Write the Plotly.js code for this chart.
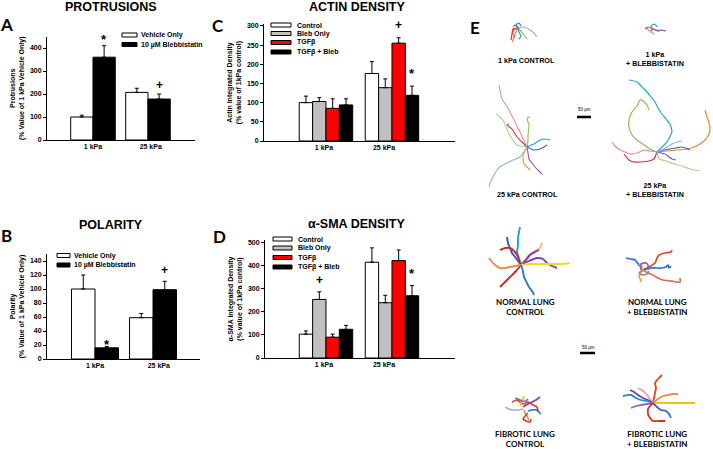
<!DOCTYPE html>
<html>
<head>
<meta charset="utf-8">
<script src="https://cdn.plot.ly/plotly-3.0.1.min.js"></script>
<style>html,body{margin:0;padding:0;background:#fff;}#chart{width:713px;height:449px;}</style>
</head>
<body>
<div id="chart"></div>
<script>
// ---------------- DATA ----------------
const groups = ['1 kPa', '25 kPa'];

// Panel A - Protrusions (% value of 1 kPa vehicle only)
const protVehicle = [100, 207];
const protVehicleErr = [8, 18];
const protBleb = [360, 178];
const protBlebErr = [50, 22];

// Panel B - Polarity
const polVehicle = [100, 59];
const polVehicleErr = [20, 6];
const polBleb = [16, 99];
const polBlebErr = [2, 12];

// Panel C - Actin density
const actinControl = [100, 176];
const actinControlErr = [17, 31];
const actinBleb = [103, 139];
const actinBlebErr = [10, 23];
const actinTgf = [85, 255];
const actinTgfErr = [25, 14];
const actinTgfBleb = [94, 119];
const actinTgfBlebErr = [16, 24];

// Panel D - alpha-SMA density
const smaControl = [103, 414];
const smaControlErr = [14, 62];
const smaBleb = [253, 239];
const smaBlebErr = [33, 32];
const smaTgf = [90, 421];
const smaTgfErr = [13, 46];
const smaTgfBleb = [124, 269];
const smaTgfBlebErr = [17, 44];

// significance markers: [x position (group + bar offset), y value, text]
const sigA = [[0.205, 448, '*'], [1.205, 240, '+']];
const sigB = [[0.205, 25, '*'], [1.205, 127, '+']];
const sigC = [[1.1, 302, '+'], [1.3, 184, '*']];
const sigD = [[-0.1, 338, '+'], [1.3, 380, '*']];

const legendAB = ['Vehicle Only', '10 µM Blebbistatin'];
const legendCD = ['Control', 'Bleb Only', 'TGFβ', 'TGFβ + Bleb'];

// Panel E - cell migration tracks (offsets from track origin, µm-scaled px)
const tracks1kCtrl = [
  {c:'#e07a70', x:[0,-2,-4,-5,-6], y:[0,4,8,12,14]},
  {c:'#e8743b', x:[0,-4,-5,-3], y:[0,2,6,10]},
  {c:'#8cc060', x:[0,3,6,9], y:[0,3,7,11]},
  {c:'#b4a4d4', x:[0,6,12,16,19], y:[0,-1,2,5,9]},
  {c:'#20a0b0', x:[0,1,3,1], y:[0,4,8,11]},
  {c:'#3070c0', x:[0,-2,1,3], y:[0,-3,-5,-2]},
  {c:'#7a5aa8', x:[0,-3,-5], y:[0,-3,-1]},
  {c:'#c83a2e', x:[0,-5,-6,-7], y:[0,1,6,12]}
];
const tracks1kBleb = [
  {c:'#b4a4d4', x:[0,6,12], y:[0,1,2]},
  {c:'#20a0b0', x:[0,-2,2,4], y:[0,-3,-5,-2]},
  {c:'#3070c0', x:[0,-5,-8], y:[0,-2,0]},
  {c:'#e8743b', x:[0,-2,1], y:[0,3,5]},
  {c:'#7a5aa8', x:[0,5,9,13], y:[0,2,1,2]},
  {c:'#e07a70', x:[0,-4,-6], y:[0,2,-1]}
];
const tracks25kCtrl = [
  {c:'#e8908a', x:[0,-4,-7,-12,-17,-21,-25,-28], y:[0,-8,-15,-25,-35,-42,-48,-62]},
  {c:'#a8d490', x:[0,-10,-14,-18,-23,-27,-31], y:[0,-2,-7,-13,-25,-30,-33]},
  {c:'#b8403a', x:[0,-5,-10,-15,-20,-18], y:[0,-5,-10,-18,-22,-23]},
  {c:'#98b858', x:[0,1,1,2,0,3], y:[0,-6,-12,-22,-29,-30]},
  {c:'#20a8b4', x:[0,4,7,13,18,23], y:[0,-2,-3,-7,-8,-7]},
  {c:'#3a62c0', x:[0,4,7,13,17,20], y:[0,2,3,2,0,-2]},
  {c:'#7c5ca8', x:[0,1,2,5,8,12,15], y:[0,6,12,16,20,24,27]},
  {c:'#f0902e', x:[0,-2,-4,-4,-3,0,3], y:[0,4,8,12,17,20,23]},
  {c:'#9ab0d8', x:[0,-7,-14,-20,-26,-30,-35,-37,-38], y:[0,10,13,16,19,23,32,36,40]}
];
const tracks25kBleb = [
  {c:'#20a8c8', x:[0,6,10,15,14,13,9,5,1,-2,-6,-10,-15,-20,-28], y:[0,-6,-10,-20,-25,-28,-33,-38,-44,-50,-55,-60,-65,-70,-72]},
  {c:'#8cbc58', x:[0,-7,-13,-20,-25,-28,-28,-25,-20,-17,-14,-13,-10,-8], y:[0,-3,-7,-12,-17,-25,-32,-40,-46,-52,-51,-50,-47,-42]},
  {c:'#e8889a', x:[0,-7,-13,-20,-27,-32,-37,-42,-45], y:[0,-1,-2,1,2,0,-2,-6,-10]},
  {c:'#c8303a', x:[0,-3,-8,-17,-23,-28,-33], y:[0,7,9,10,10,8,2]},
  {c:'#f08a2e', x:[0,10,20,30,37,43,48,52,53,50,48], y:[0,-1,-2,-3,-5,-8,-12,-18,-25,-35,-42]},
  {c:'#3a62c0', x:[0,7,13,19,25,33], y:[0,-2,-3,-4,-5,-2]},
  {c:'#9aa8e0', x:[0,5,10,15,20,25], y:[0,-2,-5,-8,-10,-11]},
  {c:'#7c5ca8', x:[0,4,8,12,15,19], y:[0,1,2,5,7,8]},
  {c:'#a8d490', x:[0,1,2,9,17,25,33,43], y:[0,4,7,9,12,14,17,19]}
];
const tracksNormCtrl = [
  {c:'#20a0c8', x:[0,-2,-4,-3,-3,-2,-1], y:[0,-7,-13,-20,-27,-33,-38]},
  {c:'#2a5cc0', x:[0,-3,-6,-9,-11,-13,-14], y:[0,-4,-8,-12,-17,-22,-28]},
  {c:'#d42828', x:[0,-2,-4,-7,-11,-16,-21], y:[0,-5,-10,-14,-17,-17,-15]},
  {c:'#d42828', x:[0,-5,-11,-16,-21], y:[0,6,12,17,22]},
  {c:'#f0884a', x:[0,-6,-11,-16,-21,-27,-32], y:[0,1,2,3,3,-1,-7]},
  {c:'#f4b080', x:[0,4,8,14,19,21], y:[0,-5,-10,-14,-17,-22]},
  {c:'#8040b0', x:[0,5,9,14,18], y:[0,-5,-10,-13,-15]},
  {c:'#8040b0', x:[0,8,16,22,26,31,36], y:[0,-4,-7,-6,-2,1,3]},
  {c:'#e6e020', x:[0,10,16,25,33,41,49], y:[0,-1,-1,-1,-1,-1,-2]},
  {c:'#2a78c8', x:[0,2,3,6,8,11,13], y:[0,6,12,18,22,26,30]}
];
const tracksNormBleb = [
  {c:'#e04a2a', x:[0,6,12,14,16,22,28,29], y:[0,-3,-7,-12,-15,-17,-18,-20]},
  {c:'#2a70c8', x:[0,-4,-8,-12,-17], y:[0,-5,-10,-11,-12]},
  {c:'#2a70c8', x:[0,7,13,18,23,25,26,28], y:[0,-2,-2,-2,-3,-5,-2,-4]},
  {c:'#e06a60', x:[0,5,10,15,20,28,37,37], y:[0,3,5,8,10,11,12,8]},
  {c:'#f0a040', x:[0,-3,-4,-2,-3], y:[0,4,7,10,12]},
  {c:'#e8c820', x:[0,-2,-3,-1,0], y:[0,-3,-6,-4,-1]},
  {c:'#9060b0', x:[-2,-2,3,5,5], y:[0,-6,-7,-5,0]},
  {c:'#909090', x:[0,-4,-1,4,6], y:[0,3,5,4,1]}
];
const tracksFibCtrl = [
  {c:'#d83a2a', x:[-13,-8,-4,-1,3,8,12,13], y:[-5,-7,-4,-3,-5,-2,0,5]},
  {c:'#8040b0', x:[-2,3,7,11,15], y:[0,-3,-5,-7,-10]},
  {c:'#e8c820', x:[-5,-4,-3,-1,-2], y:[-1,-4,-7,-9,-11]},
  {c:'#2a70c8', x:[3,7,12,14,16], y:[4,3,3,5,7]},
  {c:'#a0b4c8', x:[-20,-16,-12,-7,-2], y:[0,2,3,3,2]},
  {c:'#f0884a', x:[-1,0,2,3,4], y:[3,6,9,11,13]},
  {c:'#d83a2a', x:[3,0,-2,1,5,6], y:[6,9,12,14,15,12]},
  {c:'#9060b0', x:[-10,-7,-3,1,3], y:[-9,-8,-6,-6,-8]}
];
const tracksFibBleb = [
  {c:'#e04a1a', x:[0,1,2,3,2,5,9], y:[0,-5,-10,-15,-20,-24,-28]},
  {c:'#f0a0a0', x:[0,-3,-6,-10,-15], y:[0,-4,-8,-12,-15]},
  {c:'#7a3aa8', x:[0,-5,-10,-15,-19,-23], y:[0,-3,-5,-8,-11,-13]},
  {c:'#2090b0', x:[0,-6,-12,-17,-22,-30], y:[0,-2,-3,-5,-8,-7]},
  {c:'#9a60c0', x:[0,-6,-12,-17,-22], y:[0,1,2,3,5]},
  {c:'#f08a3a', x:[0,5,10,15,20,25], y:[0,-4,-7,-8,-9,-9]},
  {c:'#f0c020', x:[0,8,15,22,30,42], y:[0,0,0,0,0,0]},
  {c:'#2a6ac8', x:[0,4,8,13,16,18], y:[0,4,7,8,11,15]},
  {c:'#d83020', x:[0,-3,-5,-5,-3,0,6,12], y:[0,3,6,11,15,18,18,18]}
];
// track panels: origin (px in figure), line width, tracks
const trackPanels = [
  {cx:518, cy:28, w:1.2, t:tracks1kCtrl},
  {cx:653, cy:29, w:1.2, t:tracks1kBleb},
  {cx:527, cy:147, w:1.1, t:tracks25kCtrl},
  {cx:657, cy:152, w:1.2, t:tracks25kBleb},
  {cx:521, cy:265, w:1.9, t:tracksNormCtrl},
  {cx:643, cy:270, w:1.7, t:tracksNormBleb},
  {cx:525, cy:407, w:1.6, t:tracksFibCtrl},
  {cx:653, cy:403, w:1.8, t:tracksFibBleb}
];
// scale bars: 50 µm
const scaleBarsX = [[577, 591], [580, 595]];
const scaleBarsY = [117, 353];

// ---------------- HELPERS ----------------
const W = 713, H = 449;
const px = v => v / W;
const py = v => 1 - v / H;
const FONT = 'Liberation Sans, Arial, sans-serif';

function barTrace(y, err, color, xa, ya, name) {
  return {
    type: 'bar', x: [0, 1], y: y, name: name, xaxis: xa, yaxis: ya,
    marker: {color: color, line: {color: '#000', width: 1}},
    error_y: {type: 'data', symmetric: false, array: err, arrayminus: [0, 0],
              color: '#000', thickness: 1, width: 2},
    showlegend: false, hoverinfo: 'skip'
  };
}

const traces = [
  barTrace(protVehicle, protVehicleErr, '#ffffff', 'x', 'y', legendAB[0]),
  barTrace(protBleb, protBlebErr, '#000000', 'x', 'y', legendAB[1]),
  barTrace(polVehicle, polVehicleErr, '#ffffff', 'x2', 'y2', legendAB[0]),
  barTrace(polBleb, polBlebErr, '#000000', 'x2', 'y2', legendAB[1]),
  barTrace(actinControl, actinControlErr, '#ffffff', 'x3', 'y3', legendCD[0]),
  barTrace(actinBleb, actinBlebErr, '#c0c0c0', 'x3', 'y3', legendCD[1]),
  barTrace(actinTgf, actinTgfErr, '#ff0000', 'x3', 'y3', legendCD[2]),
  barTrace(actinTgfBleb, actinTgfBlebErr, '#000000', 'x3', 'y3', legendCD[3]),
  barTrace(smaControl, smaControlErr, '#ffffff', 'x4', 'y4', legendCD[0]),
  barTrace(smaBleb, smaBlebErr, '#c0c0c0', 'x4', 'y4', legendCD[1]),
  barTrace(smaTgf, smaTgfErr, '#ff0000', 'x4', 'y4', legendCD[2]),
  barTrace(smaTgfBleb, smaTgfBlebErr, '#000000', 'x4', 'y4', legendCD[3])
];

// tracks
trackPanels.forEach(p => {
  p.t.forEach(tr => {
    traces.push({
      type: 'scatter', mode: 'lines', xaxis: 'x5', yaxis: 'y5',
      x: tr.x.map(v => p.cx + v), y: tr.y.map(v => p.cy + v),
      line: {color: tr.c, width: p.w, shape: 'spline', smoothing: 0.6},
      showlegend: false, hoverinfo: 'skip'
    });
  });
});
scaleBarsX.forEach((xs, i) => {
  traces.push({type: 'scatter', mode: 'lines', xaxis: 'x5', yaxis: 'y5',
    x: xs, y: [scaleBarsY[i], scaleBarsY[i]],
    line: {color: '#000', width: 2.5}, showlegend: false, hoverinfo: 'skip'});
});

function yAx(domTop, domBot, range, dtick, titleText, xanchor) {
  return {
    domain: [py(domBot), py(domTop)], range: range, anchor: xanchor,
    showline: true, linecolor: '#000', linewidth: 1, mirror: false,
    ticks: 'outside', ticklen: 3, tickcolor: '#000', tickwidth: 1,
    dtick: dtick, tick0: 0, showgrid: false, zeroline: false,
    tickfont: {family: FONT, size: 7, color: '#000', weight: 'bold'},
    title: {text: titleText, standoff: 4,
            font: {family: FONT, size: 7, color: '#000', weight: 'bold'}},
    fixedrange: true
  };
}
function xAx(left, right, range, tickvals, yanchor) {
  return {
    domain: [px(left), px(right)], range: range, anchor: yanchor,
    showline: true, linecolor: '#000', linewidth: 1,
    ticks: '', tickvals: tickvals, ticktext: groups,
    showgrid: false, zeroline: false,
    tickfont: {family: FONT, size: 7, color: '#000', weight: 'bold'},
    fixedrange: true
  };
}

const layout = {
  width: W, height: H,
  margin: {l: 0, r: 0, t: 0, b: 0, pad: 0},
  paper_bgcolor: '#fff', plot_bgcolor: 'rgba(0,0,0,0)',
  barmode: 'group', bargap: 0.19, bargroupgap: 0,
  showlegend: false,
  xaxis: xAx(47, 195, [-0.836, 1.855], [0, 1.05], 'y'),
  yaxis: yAx(36.5, 140, [0, 450], 100, 'Protrusions<br>(% Value of 1 kPa Vehicle Only)', 'x'),
  xaxis2: xAx(47, 200, [-0.828, 1.81], [0, 1.1], 'y2'),
  yaxis2: yAx(254, 359, [0, 150], 20, 'Polarity<br>(% Value of 1 kPa Vehicle Only)', 'x2'),
  xaxis3: xAx(264, 455, [-0.939, 1.955], [-0.03, 0.88], 'y3'),
  yaxis3: yAx(24, 141, [0, 305], 50, 'Actin Integrated Density<br>(% value of 1kPa control)', 'x3'),
  xaxis4: xAx(265, 455, [-0.924, 1.955], [-0.03, 0.88], 'y4'),
  yaxis4: yAx(240, 358, [0, 510], 100, 'α-SMA Integrated Density<br>(% value of 1kPa control)', 'x4'),
  xaxis5: {domain: [px(440), 1], range: [440, 713], visible: false, anchor: 'y5', fixedrange: true},
  yaxis5: {domain: [0, 1], range: [449, 0], visible: false, anchor: 'x5', fixedrange: true},
  shapes: [],
  annotations: []
};

const ann = layout.annotations;
function txt(x, y, text, size, opts) {
  ann.push(Object.assign({
    xref: 'paper', yref: 'paper', x: px(x), y: py(y), text: text, showarrow: false,
    xanchor: 'center', yanchor: 'middle',
    font: {family: FONT, size: size, color: '#000', weight: 'bold'}
  }, opts || {}));
}
// panel titles
txt(111, 7, 'PROTRUSIONS', 12.5);
txt(111, 225, 'POLARITY', 12.5);
txt(357, 7, 'ACTIN DENSITY', 12.5);
txt(356, 224, 'α-SMA DENSITY', 12.5);
// panel letters
const LETTER_FONT = 'Lato, Open Sans, sans-serif';
[['A', 6, 24], ['B', 6, 235], ['C', 218, 26], ['D', 219, 236], ['E', 475, 27]].forEach(l => {
  txt(l[1], l[2], l[0], 17, {font: {family: LETTER_FONT, size: 17, color: '#000', weight: 'bold'}});
});

// legends (swatch + label)
function legend(x0, rows, labels, colors, bw, bh, tx) {
  labels.forEach((lab, i) => {
    layout.shapes.push({type: 'rect', xref: 'paper', yref: 'paper',
      x0: px(x0), x1: px(x0 + bw), y0: py(rows[i] + bh / 2), y1: py(rows[i] - bh / 2),
      fillcolor: colors[i], line: {color: '#000', width: 1}});
    txt(tx, rows[i], lab, 7, {xanchor: 'left'});
  });
}
legend(122, [35, 44.5], legendAB, ['#fff', '#000'], 15, 4, 139);
legend(57, [255.5, 265], legendAB, ['#fff', '#000'], 13, 4, 72);
legend(271, [25, 33.5, 42.5, 52], legendCD, ['#fff', '#c0c0c0', '#ff0000', '#000'], 20, 4, 295);
legend(273, [239, 248, 257.5, 267], legendCD, ['#fff', '#c0c0c0', '#ff0000', '#000'], 19, 4, 296);

// significance marks
[[sigA, 'x', 'y'], [sigB, 'x2', 'y2'], [sigC, 'x3', 'y3'], [sigD, 'x4', 'y4']].forEach(s => {
  s[0].forEach(m => {
    const star = m[2] === '*';
    ann.push({xref: s[1], yref: s[2], x: m[0], y: m[1], text: m[2], showarrow: false,
      xanchor: 'center', yanchor: 'middle', yshift: star ? -3 : 0,
      font: {family: FONT, size: star ? 13 : 12, color: '#000000', weight: 'bold'}});
  });
});

// Panel E labels
const LF = 'Lato, Open Sans, sans-serif';
txt(526, 60, '1 kPa CONTROL', 7.2);
txt(655, 59.5, '1 kPa<br>+ BLEBBISTATIN', 7.2);
txt(527, 194, '25 kPa CONTROL', 7.2);
txt(655, 189.5, '25 kPa<br>+ BLEBBISTATIN', 7.2);
txt(584, 110, '50 µm', 4.5, {font: {family: FONT, size: 4.5, color: '#000'}});
txt(588, 347, '50 µm', 4.5, {font: {family: FONT, size: 4.5, color: '#000'}});
const lungLab = {font: {family: LF, size: 8, color: '#000', weight: 'bold'}};
txt(525, 307, 'NORMAL LUNG<br>CONTROL', 8, lungLab);
txt(657, 307, 'NORMAL LUNG<br>+ BLEBBISTATIN', 8, lungLab);
txt(525, 439, 'FIBROTIC LUNG<br>CONTROL', 8, lungLab);
txt(657, 439, 'FIBROTIC LUNG<br>+ BLEBBISTATIN', 8, lungLab);

Plotly.newPlot('chart', traces, layout, {displayModeBar: false, staticPlot: true});
</script>
</body>
</html>
